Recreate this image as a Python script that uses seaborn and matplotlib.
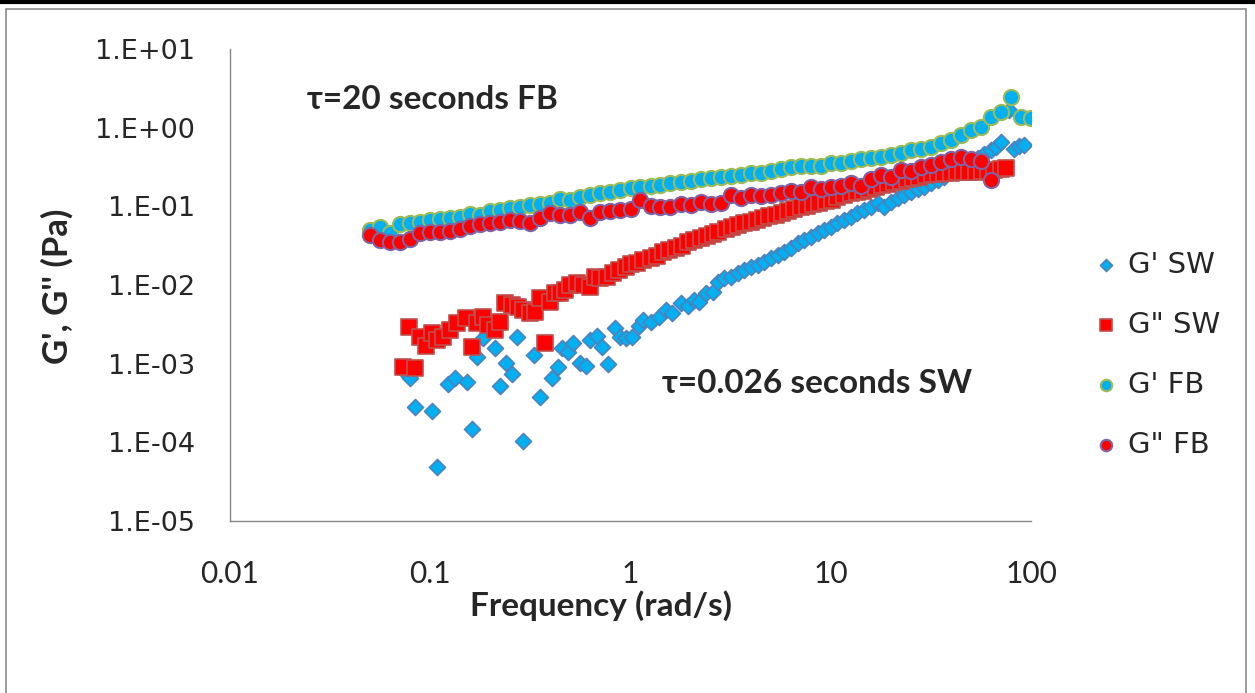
import numpy as np
import pandas as pd
from matplotlib import pyplot as plt
from matplotlib.patches import Rectangle
from matplotlib.lines import Line2D
import seaborn as sns

# frequency sweep, FB sample (rad/s)
fb_freq = [0.0500, 0.0561, 0.0629, 0.0706, 0.0792, 0.0889, 0.0998, 0.112, 0.126, 0.141,
           0.158, 0.178, 0.199, 0.224, 0.251, 0.282, 0.316, 0.355, 0.398, 0.447,
           0.501, 0.562, 0.631, 0.708, 0.794, 0.891, 1.00, 1.12, 1.26, 1.41,
           1.58, 1.78, 2.00, 2.24, 2.51, 2.82, 3.16, 3.55, 3.98, 4.47,
           5.01, 5.62, 6.31, 7.08, 7.94, 8.91, 10.0, 11.2, 12.6, 14.1,
           15.8, 17.8, 20.0, 22.4, 25.1, 28.2, 31.6, 35.5, 39.8, 44.7,
           50.1, 56.2, 63.1, 70.8, 79.4, 89.1, 100.0]
gp_fb = [0.0501, 0.0547, 0.0459, 0.0597, 0.0615, 0.0634, 0.0672, 0.0692, 0.0713, 0.0733,
         0.0800, 0.0778, 0.0875, 0.0900, 0.0955, 0.0980, 0.104, 0.107, 0.110, 0.124,
         0.121, 0.133, 0.140, 0.147, 0.154, 0.162, 0.170, 0.178, 0.182, 0.187,
         0.197, 0.206, 0.212, 0.221, 0.228, 0.238, 0.243, 0.251, 0.264, 0.268,
         0.284, 0.296, 0.315, 0.322, 0.326, 0.329, 0.353, 0.359, 0.381, 0.397,
         0.408, 0.421, 0.446, 0.481, 0.521, 0.532, 0.574, 0.645, 0.698, 0.807,
         0.935, 1.03, 1.38, 1.60, 2.43, 1.38, 1.32]
gpp_fb = [0.0433, 0.0374, 0.0353, 0.0353, 0.0385, 0.0459, 0.0473, 0.0473, 0.0487, 0.0516,
          0.0564, 0.0597, 0.0615, 0.0634, 0.0672, 0.0652, 0.0615, 0.0713, 0.0824, 0.0778,
          0.0778, 0.0849, 0.0713, 0.0849, 0.0875, 0.0900, 0.0919, 0.121, 0.101, 0.099,
          0.099, 0.107, 0.104, 0.115, 0.107, 0.111, 0.140, 0.127, 0.140, 0.136,
          0.140, 0.147, 0.158, 0.154, 0.175, 0.165, 0.175, 0.182, 0.200, 0.182,
          0.221, 0.251, 0.238, 0.290, 0.284, 0.314, 0.336, 0.370, 0.397, 0.421,
          0.397, 0.381, 0.216]

# SW sample
sw_gpp_freq = [0.0733, 0.0785, 0.0841, 0.0891, 0.0955, 0.102, 0.108, 0.116, 0.126, 0.136,
               0.150, 0.162, 0.172, 0.184, 0.195, 0.211, 0.224, 0.237, 0.257, 0.275,
               0.292, 0.316, 0.335, 0.355, 0.376, 0.398, 0.422, 0.447, 0.473, 0.501,
               0.543, 0.582, 0.631, 0.668, 0.708, 0.767, 0.813, 0.871, 0.944, 1.01,
               1.08, 1.16, 1.26, 1.35, 1.45, 1.55, 1.68, 1.80, 1.93, 2.07,
               2.24, 2.40, 2.57, 2.75, 2.99, 3.20, 3.43, 3.67, 3.98, 4.27,
               4.57, 4.90, 5.31, 5.69, 6.10, 6.53, 7.08, 7.59, 8.13, 8.71,
               9.44, 10.1, 10.8, 11.6, 12.6, 13.5, 14.5, 15.5, 16.8, 18.0,
               19.3, 20.7, 22.4, 24.0, 25.7, 27.5, 29.9, 32.0, 34.3, 36.7,
               39.8, 42.7, 45.7, 49.0, 53.1, 56.9, 61.0, 65.3, 70.8, 75.0]
gpp_sw = [0.00091, 0.00294, 0.00088, 0.00219, 0.00168, 0.00246, 0.00201, 0.00219, 0.00269, 0.00330,
          0.00382, 0.00163, 0.00330, 0.00393, 0.00311, 0.00269, 0.00340, 0.00593, 0.00559, 0.00527,
          0.00483, 0.00442, 0.00455, 0.00686, 0.00184, 0.00610, 0.00794, 0.00794, 0.00867, 0.0100,
          0.0106, 0.0100, 0.00946, 0.0127, 0.0123, 0.0127, 0.0143, 0.0156, 0.0170, 0.0185,
          0.0191, 0.0208, 0.0221, 0.0234, 0.0263, 0.0279, 0.0296, 0.0314, 0.0353, 0.0374,
          0.0397, 0.0421, 0.0446, 0.0473, 0.0516, 0.0547, 0.0580, 0.0615, 0.0634, 0.0672,
          0.0713, 0.0745, 0.0778, 0.0825, 0.0875, 0.0914, 0.0969, 0.101, 0.106, 0.110,
          0.117, 0.122, 0.130, 0.140, 0.146, 0.152, 0.158, 0.166, 0.176, 0.184,
          0.193, 0.201, 0.210, 0.220, 0.228, 0.236, 0.247, 0.254, 0.258, 0.262,
          0.266, 0.270, 0.274, 0.276, 0.276, 0.282, 0.284, 0.286, 0.299, 0.308]

sw_gp_freq = [0.0750, 0.0794, 0.0841, 0.102, 0.108, 0.123, 0.133, 0.153, 0.162, 0.172,
              0.184, 0.211, 0.224, 0.240, 0.257, 0.272, 0.292, 0.331, 0.355, 0.407,
              0.432, 0.457, 0.490, 0.519, 0.562, 0.596, 0.631, 0.684, 0.724, 0.776,
              0.841, 0.891, 0.944, 1.02, 1.10, 1.16, 1.26, 1.38, 1.50, 1.62,
              1.78, 1.93, 2.07, 2.19, 2.37, 2.57, 2.72, 2.92, 3.16, 3.43,
              3.67, 3.98, 4.32, 4.62, 5.01, 5.43, 5.82, 6.31, 6.84, 7.33,
              7.94, 8.61, 9.23, 10.0, 10.8, 11.6, 12.6, 13.6, 14.6, 15.8,
              17.2, 18.4, 20.0, 21.6, 23.2, 25.1, 27.2, 29.2, 31.6, 34.3,
              36.7, 39.8, 43.2, 46.2, 50.1, 54.3, 58.2, 63.1, 66.8, 70.8,
              77.6, 82.2, 87.1, 92.3]
gp_sw = [0.000787, 0.000660, 0.000283, 0.000251, 0.0000489, 0.000554, 0.000660, 0.000587, 0.000148, 0.00122,
         0.00213, 0.00159, 0.000522, 0.00102, 0.000742, 0.00219, 0.000104, 0.00129, 0.000379, 0.000660,
         0.000910, 0.00159, 0.00141, 0.00184, 0.00102, 0.000938, 0.00201, 0.00226, 0.00163, 0.000994,
         0.00285, 0.00219, 0.00213, 0.00219, 0.00302, 0.00360, 0.00340, 0.00393, 0.00483, 0.00442,
         0.00593, 0.00542, 0.00647, 0.00610, 0.00794, 0.00817, 0.0109, 0.0123, 0.0127, 0.0143,
         0.0156, 0.0170, 0.0180, 0.0197, 0.0221, 0.0241, 0.0263, 0.0296, 0.0343, 0.0374,
         0.0408, 0.0459, 0.0501, 0.0547, 0.0615, 0.0672, 0.0733, 0.0825, 0.0900, 0.0982,
         0.110, 0.0982, 0.114, 0.128, 0.140, 0.152, 0.166, 0.176, 0.198, 0.216,
         0.236, 0.274, 0.308, 0.336, 0.367, 0.412, 0.463, 0.521, 0.568, 0.658,
         1.68, 0.536, 0.585, 0.603]

x_ticks = [0.01, 0.1, 1, 10, 100]
x_labels = ["0.01", "0.1", "1", "10", "100"]
y_ticks = [1e-5, 1e-4, 1e-3, 1e-2, 1e-1, 1e0, 1e1]
y_labels = ["1.E-05", "1.E-04", "1.E-03", "1.E-02", "1.E-01", "1.E+00", "1.E+01"]

sns.set_style("white")
plt.rcParams["font.family"] = ["Lato", "DejaVu Sans"]

fig = plt.figure(figsize=(12.55, 6.93), dpi=100)
ax = fig.add_axes([0.1833, 0.2482, 0.6382, 0.6811])

sns.scatterplot(x=sw_gp_freq, y=gp_sw, marker="D", s=66, color="#00B0F0",
                edgecolor="#4F81BD", linewidth=1.2, label="G' SW", ax=ax, zorder=2)
sns.scatterplot(x=sw_gpp_freq, y=gpp_sw, marker="s", s=130, color="#FF0000",
                edgecolor="#C0504D", linewidth=1.2, label="G\" SW", ax=ax, zorder=3)
sns.scatterplot(x=fb_freq, y=gp_fb, marker="o", s=120, color="#00B0F0",
                edgecolor="#9BBB59", linewidth=1.5, label="G' FB", ax=ax, zorder=4)
sns.scatterplot(x=fb_freq[:len(gpp_fb)], y=gpp_fb, marker="o", s=120, color="#FF0000",
                edgecolor="#8064A2", linewidth=1.5, label="G\" FB", ax=ax, zorder=5)

ax.set_xscale("log")
ax.set_yscale("log")
ax.set_xlim(0.01, 100)
ax.set_ylim(1e-5, 10)
ax.minorticks_off()
ax.set_xticks(x_ticks)
ax.set_xticklabels(x_labels)
ax.set_yticks(y_ticks)
ax.set_yticklabels(y_labels, family="DejaVu Sans")

for side in ["top", "right"]:
    ax.spines[side].set_visible(False)
for side in ["left", "bottom"]:
    ax.spines[side].set_color("#868686")
    ax.spines[side].set_linewidth(1.0)
ax.tick_params(axis="y", length=8, width=1, color="#868686", pad=17, labelsize=19.5)
ax.tick_params(axis="x", length=8, width=1, color="#868686", pad=20, labelsize=21.5)

ax.set_xlabel("Frequency (rad/s)", fontsize=24, fontweight="bold")
ax.xaxis.set_label_coords(0.463, -0.146)
ax.set_ylabel("G', G'' (Pa)", fontsize=25, fontweight="bold")
ax.yaxis.set_label_coords(-0.196, 0.498)

ax.text(0.096, 0.892, "τ=20 seconds FB", transform=ax.transAxes, fontsize=24,
        fontweight="bold", va="center", ha="left")
ax.text(0.539, 0.292, "τ=0.026 seconds SW", transform=ax.transAxes, fontsize=24,
        fontweight="bold", va="center", ha="left")

leg = ax.legend(loc="center left", bbox_to_anchor=(1080 / 1255, 0.488),
                bbox_transform=fig.transFigure, frameon=False, fontsize=21,
                handlelength=0.8, handletextpad=0.35, labelspacing=1.1,
                markerscale=0.75, borderpad=0)
for t in leg.get_texts():
    t.set_family(["DejaVu Sans"])

# outer frame like the spreadsheet chart area
fig.add_artist(Rectangle((6 / 1255, -0.01), 1240 / 1255, 1 - 9 / 693 + 0.01,
                         transform=fig.transFigure, fill=False,
                         edgecolor="#8C8C8C", linewidth=1.2))
fig.add_artist(Line2D([0, 1], [1 - 1.5 / 693, 1 - 1.5 / 693],
                      transform=fig.transFigure, color="black", linewidth=3))

plt.savefig("out.png", dpi=100)
